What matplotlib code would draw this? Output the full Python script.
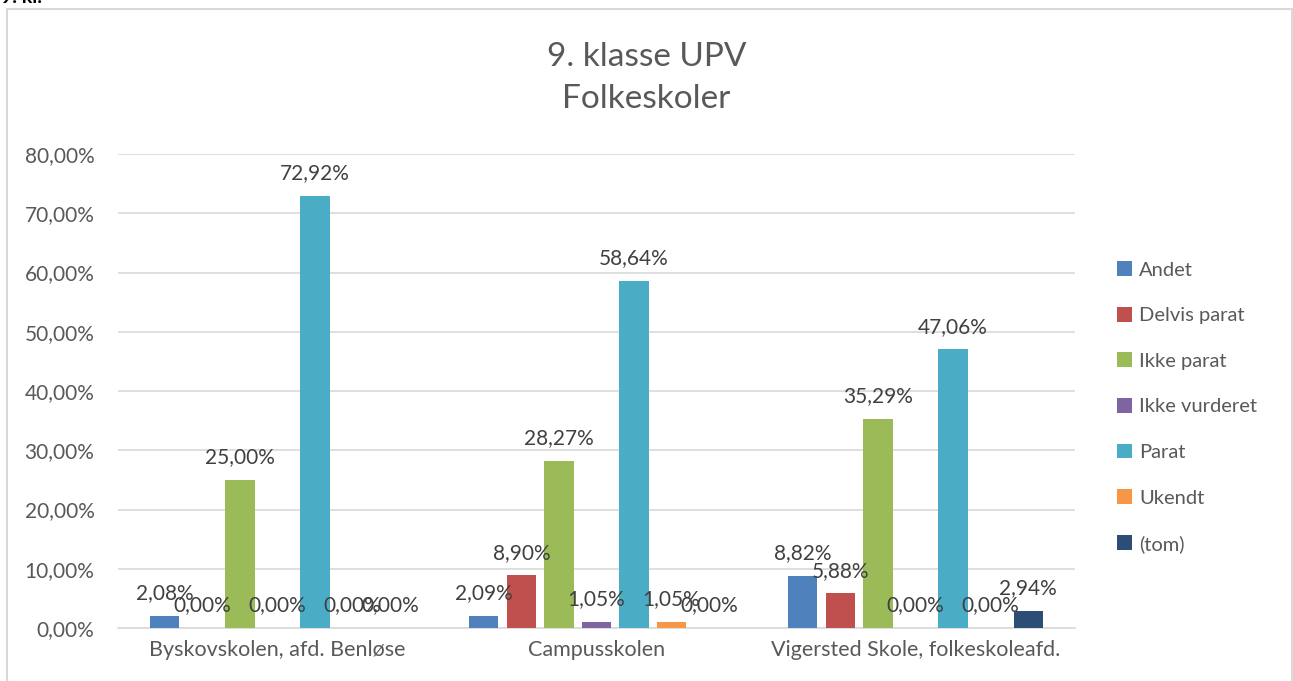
import numpy as np
import matplotlib
matplotlib.use("Agg")
import matplotlib.pyplot as plt
from matplotlib.patches import Rectangle
from matplotlib.ticker import FuncFormatter

plt.rcParams['font.family'] = ['Lato', 'DejaVu Sans']

categories = ["Byskovskolen, afd. Benløse", "Campusskolen", "Vigersted Skole, folkeskoleafd."]
series_names = ["Andet", "Delvis parat", "Ikke parat", "Ikke vurderet", "Parat", "Ukendt", "(tom)"]
andet = [2.08, 2.09, 8.82]
delvis_parat = [0.00, 8.90, 5.88]
ikke_parat = [25.00, 28.27, 35.29]
ikke_vurderet = [0.00, 1.05, 0.00]
parat = [72.92, 58.64, 47.06]
ukendt = [0.00, 1.05, 0.00]
tom = [0.00, 0.00, 2.94]
colors = ["#4F81BD", "#C0504D", "#9BBB59", "#8064A2", "#4BACC6", "#F79646", "#2C4D75"]

all_values = [andet, delvis_parat, ikke_parat, ikke_vurderet, parat, ukendt, tom]

grid_col = "#D9D9D9"
txt_col = "#595959"

fig = plt.figure(figsize=(12.93, 6.81), dpi=100)
ax = fig.add_axes([118 / 1293, 1 - 628 / 681, (1075 - 118) / 1293, (628 - 154) / 681])

x = np.arange(len(categories))
slot = 0.1176
width = 0.091
for i, (name, vals) in enumerate(zip(series_names, all_values)):
    pos = x + (i - 3) * slot
    ax.bar(pos, vals, width, color=colors[i], label=name, zorder=3)
    for px, v in zip(pos, vals):
        ax.annotate(f"{v:.2f}%".replace('.', ','), (px, v), xytext=(0, 9),
                    textcoords="offset points", ha="center", va="bottom",
                    fontsize=15, color="#404040", zorder=4)

ax.set_xlim(-0.5, 2.5)
ax.set_ylim(0, 80)
ax.set_yticks(np.arange(0, 81, 10))
ax.yaxis.set_major_formatter(FuncFormatter(lambda v, p: f"{v:.2f}%".replace('.', ',')))
ax.set_xticks(x)
ax.set_xticklabels(categories)
ax.tick_params(axis="both", length=0, labelsize=15, labelcolor=txt_col)
ax.tick_params(axis="x", labelsize=15.5, pad=9)
ax.tick_params(axis="y", pad=17)
ax.grid(axis="y", color=grid_col, linewidth=1.2, zorder=0)
for s in ["top", "right", "left"]:
    ax.spines[s].set_visible(False)
ax.spines["bottom"].set_color(grid_col)
ax.spines["bottom"].set_linewidth(1.2)

fig.text(0.5, 1 - 78 / 681, "9. klasse UPV\nFolkeskoler", ha="center", va="center",
         fontsize=24, color=txt_col, linespacing=1.5)

fig.legend(loc="center left", bbox_to_anchor=(1099 / 1293, 1 - 407 / 681), frameon=False,
           fontsize=14.5, labelcolor=txt_col, handlelength=0.75, handleheight=0.75,
           handletextpad=0.35, labelspacing=1.4)

fig.patches.append(Rectangle((7 / 1293, -0.05), 1285 / 1293, 1.05 - 9 / 681,
                             transform=fig.transFigure, fill=False,
                             edgecolor=grid_col, linewidth=1.5))
fig.text(0.001, 1 - 3 / 681, "9. kl.", ha="left", va="baseline", fontsize=14,
         fontweight="bold", color="black")

fig.savefig("out.png", dpi=100, facecolor="white")
